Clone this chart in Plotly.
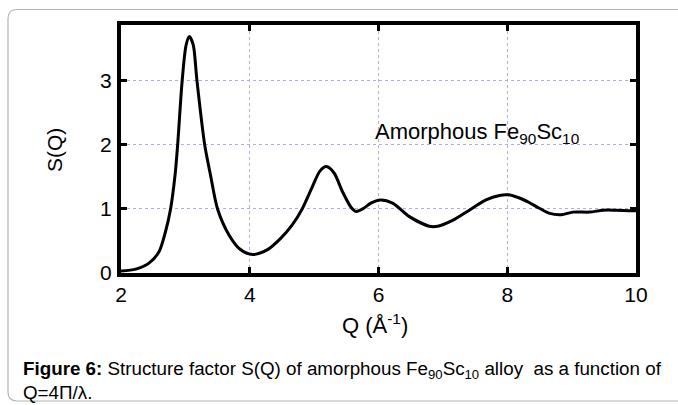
import plotly.graph_objects as go

# Data
Q = [2.0, 2.23, 2.43, 2.59, 2.69, 2.77, 2.84, 2.88, 2.95, 3.01, 3.06, 3.12, 3.18, 3.30, 3.39,
     3.50, 3.68, 3.85, 4.04, 4.27, 4.48, 4.66, 4.81, 4.97, 5.09, 5.19, 5.31, 5.44, 5.57, 5.65,
     5.77, 5.88, 6.03, 6.22, 6.48, 6.79, 6.92, 7.15, 7.41, 7.67, 7.88, 8.01, 8.19, 8.34, 8.50,
     8.66, 8.84, 9.02, 9.28, 9.49, 9.69, 10.0]
S = [0.03, 0.06, 0.15, 0.33, 0.64, 1.0, 1.53, 2.0, 3.0, 3.55, 3.69, 3.57, 3.0, 2.0, 1.53,
     1.0, 0.59, 0.37, 0.29, 0.36, 0.54, 0.75, 0.99, 1.34, 1.59, 1.66, 1.56, 1.27, 1.03, 0.96,
     1.01, 1.09, 1.14, 1.09, 0.88, 0.73, 0.73, 0.82, 0.98, 1.14, 1.21, 1.22, 1.17, 1.10, 1.01,
     0.93, 0.91, 0.95, 0.95, 0.98, 0.98, 0.97]
x_ticks = [2, 4, 6, 8, 10]
y_ticks = [0, 1, 2, 3]

W, H = 678, 405
L, R, T, B = 121, 636, 25, 273
pw, ph = R - L, B - T


def px(x):
    return (x - L) / pw


def py(y):
    return (B - y) / ph


FONT = "Liberation Sans, Arial, sans-serif"

fig = go.Figure()
fig.add_trace(go.Scatter(x=Q, y=S, mode="lines",
                         line=dict(color="black", width=3, shape="spline", smoothing=0.8),
                         showlegend=False, hoverinfo="skip"))

axis_common = dict(showline=True, linewidth=4, linecolor="black", mirror="ticks",
                   ticks="inside", ticklen=6, tickwidth=3, tickcolor="black",
                   showgrid=True, gridcolor="#b0b0e0", gridwidth=1, griddash="dot",
                   zeroline=False, tickfont=dict(family=FONT, size=21, color="black"))

fig.update_xaxes(range=[2, 10], tickvals=x_ticks, ticktext=[str(v) for v in x_ticks],
                 ticklabelstandoff=0, **axis_common)
fig.update_yaxes(range=[0, 3.87], tickvals=y_ticks, ticktext=[str(v) for v in y_ticks],
                 ticklabelstandoff=1, **axis_common)

# outer rounded border
x0, x1 = px(8), px(700)
y0, y1 = py(401), py(9.5)
rx, ry = 9 / pw, 9 / ph
path = (f"M {x0+rx},{y1} L {x1},{y1} M {x0},{y0+ry} L {x0},{y1-ry} Q {x0},{y1} {x0+rx},{y1} "
        f"M {x0},{y0+ry} Q {x0},{y0} {x0+rx},{y0} L {x1},{y0}")
fig.add_shape(type="path", path=path, xref="paper", yref="paper",
              line=dict(color="#b4b4b4", width=1.2), layer="below")

CAP = "Liberation Sans, Arial, sans-serif"
annotations = [
    dict(x=5.92, y=2.18, xref="x", yref="y", xanchor="left", yanchor="middle",
         text="Amorphous Fe<sub>90</sub>Sc<sub>10</sub>", showarrow=False,
         font=dict(family=FONT, size=22, color="black")),
    dict(x=px(54), y=py(150), xref="paper", yref="paper", xanchor="center", yanchor="middle",
         text="S(Q)", textangle=-90, showarrow=False,
         font=dict(family=FONT, size=21, color="black")),
    dict(x=px(375), y=py(324), xref="paper", yref="paper", xanchor="center", yanchor="middle",
         text="Q (Å<sup>-1</sup>)", showarrow=False,
         font=dict(family=FONT, size=22, color="black")),
    dict(x=px(21), y=py(370), xref="paper", yref="paper", xanchor="left", yanchor="middle",
         text="<b>Figure 6:</b> Structure factor S(Q) of amorphous Fe<sub>90</sub>Sc<sub>10</sub> alloy  as a function of",
         showarrow=False, font=dict(family=CAP, size=18.8, color="black")),
    dict(x=px(21), y=py(392), xref="paper", yref="paper", xanchor="left", yanchor="middle",
         text="Q=4Π/λ.", showarrow=False,
         font=dict(family=CAP, size=18.8, color="black")),
]

fig.update_layout(width=W, height=H, margin=dict(l=L, r=W - R, t=T, b=H - B),
                  paper_bgcolor="white", plot_bgcolor="white",
                  annotations=annotations, showlegend=False)

fig.write_html("out.html")
